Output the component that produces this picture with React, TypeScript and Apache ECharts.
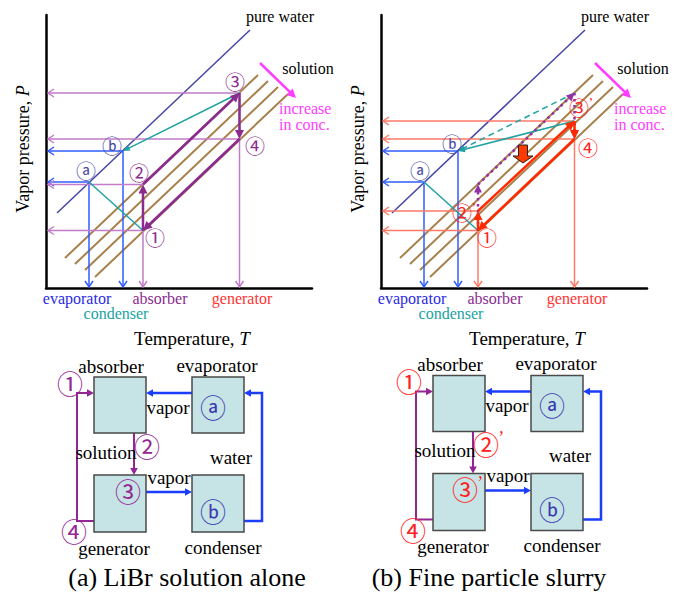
import React, { useEffect, useRef } from "react";
import * as echarts from "echarts";

// ---------- P–T diagram geometry (diagram units: T to the right, P upward) ----------
const AXIS_T_MAX = 266;
const AXIS_P_MAX = 273;
const PURE_WATER: number[][] = [[11, 75], [204, 258]];
const SOLUTION_LINES: number[][][] = [
  [[19, 30], [212, 213]],
  [[29, 24], [222, 207]],
  [[39, 18], [232, 201]],
  [[49, 11], [242, 194]],
];
const STATE_A = [43, 106];
const STATE_B = [77, 137];
const STATE_1 = [97, 57.5];
const STATE_2 = [97, 103.5];
const STATE_3 = [193.5, 195];
const STATE_4 = [193.5, 149];
const STATE_2P = [97, 77]; // slurry, 2'
const STATE_3P = [193.5, 167]; // slurry, lowered generator point
const CONC_ARROW: number[][] = [[214, 225], [250, 190]];
const DROP_ARROW = [142, 135];
const P_AXIS_T = 2; // T where the horizontal arrows reach the P axis
const T_AXIS_P = 1; // P where the vertical arrows reach the T axis

// ---------- layout ----------
const PANEL_LEFT = [46, 381];
const PANEL_TOP = 15;
const BLOCK_OFFSET = [[0, 0], [339, -1.5]];

const SERIF = "Liberation Serif";
const CJK = "Noto Sans CJK JP";

const C = {
  brown: "#a8804c",
  water: "#4545a5",
  thinPurple: "#c27bc9",
  blue: "#2f5cff",
  teal: "#1fa3a3",
  thickPurple: "#8b2a8f",
  salmon: "#ff7a66",
  red: "#ff2a00",
  dotted: "#9331a6",
  magenta: "#ff3cff",
  circ: "#4a4aa8",
  redLabel: "#ff2020",
  blkBlue: "#1a3dff",
  blkPurple: "#932693",
};

type SegStyle = {
  color: string;
  width: number;
  dash?: number[];
  head?: "open" | "filled";
  hl?: number;
  hw?: number;
};

const seg = (a: number[], b: number[], arrow = 1) => [a[0], a[1], b[0], b[1], arrow];
const toP = (a: number[]) => [P_AXIS_T, a[1]];
const toT = (a: number[]) => [a[0], T_AXIS_P];

function renderSeg(st: SegStyle) {
  return (params: any, api: any) => {
    const p1 = api.coord([api.value(0), api.value(1)]);
    const p2 = api.coord([api.value(2), api.value(3)]);
    const arrow = api.value(4);
    const dx = p2[0] - p1[0];
    const dy = p2[1] - p1[1];
    const len = Math.hypot(dx, dy) || 1;
    const ux = dx / len;
    const uy = dy / len;
    const L = st.hl ?? 6;
    const W = st.hw ?? 4;
    const children: any[] = [];
    let end = p2;
    if (arrow && st.head === "filled") end = [p2[0] - ux * (L - 1), p2[1] - uy * (L - 1)];
    children.push({
      type: "line",
      shape: { x1: p1[0], y1: p1[1], x2: end[0], y2: end[1] },
      style: { stroke: st.color, lineWidth: st.width, lineDash: st.dash || null, fill: null },
    });
    if (arrow) {
      const bx = p2[0] - ux * L;
      const by = p2[1] - uy * L;
      const lp = [bx - uy * W, by + ux * W];
      const rp = [bx + uy * W, by - ux * W];
      if (st.head === "filled") {
        children.push({ type: "polygon", shape: { points: [p2, lp, rp] }, style: { fill: st.color } });
      } else {
        children.push({
          type: "polyline",
          shape: { points: [lp, p2, rp] },
          style: { stroke: st.color, lineWidth: st.width, fill: null },
        });
      }
    }
    return { type: "group", children };
  };
}

function segSeries(panel: number, data: number[][], st: SegStyle, z: number) {
  return {
    type: "custom",
    xAxisIndex: panel,
    yAxisIndex: panel,
    clip: false,
    silent: true,
    z,
    renderItem: renderSeg(st),
    data,
  };
}

function dropArrowSeries(panel: number) {
  return {
    type: "custom",
    xAxisIndex: panel,
    yAxisIndex: panel,
    clip: false,
    silent: true,
    z: 9,
    data: [DROP_ARROW],
    renderItem: (params: any, api: any) => {
      const p = api.coord([api.value(0), api.value(1)]);
      const pts = [
        [-4.5, -8], [4.5, -8], [4.5, 3], [10, 3], [0, 10], [-10, 3], [-4.5, 3],
      ].map((q) => [p[0] + q[0], p[1] + q[1]]);
      return { type: "polygon", shape: { points: pts }, style: { fill: "#ff3a00", stroke: "#222", lineWidth: 1 } };
    },
  };
}

function txt(x: number, y: number, text: string, size: number, color = "#000", extra: any = {}) {
  const fam = extra.family || SERIF;
  const align = extra.align || "center";
  return {
    type: "text",
    x,
    y,
    rotation: extra.rotation || 0,
    silent: true,
    z: 20,
    style: {
      text,
      x: 0,
      y: 0,
      fontSize: size,
      fontFamily: fam,
      fontStyle: extra.italic ? "italic" : "normal",
      fill: color,
      align,
      verticalAlign: "middle",
      textAlign: align,
      textVerticalAlign: "middle",
      rich: extra.rich,
    },
  };
}

function circ(x: number, y: number, ch: string, size: number, color: string, prime = false) {
  const els: any[] = [txt(x, y, ch, size, color, { family: CJK })];
  if (prime) els.push(txt(x + size * 0.47, y - size * 0.2, "\u2019", size * 0.7, color, { align: "left" }));
  return els;
}

function panelTexts(panel: number) {
  const ox = PANEL_LEFT[panel];
  const oy = PANEL_TOP + AXIS_P_MAX;
  const at = (dx: number, dy: number) => [ox + dx, oy + dy];
  const els: any[] = [];
  const push = (p: number[], t: string, s: number, c: string, e: any = {}) => els.push(txt(p[0], p[1], t, s, c, e));
  push(at(234, -272), "pure water", 16, "#000");
  push(at(262, -220), "solution", 16, "#000");
  push(at(233, -179.5), "increase", 16, C.magenta, { align: "left" });
  push(at(233, -163.5), "in conc.", 16, C.magenta, { align: "left" });
  push(at(-23, -139), "Vapor pressure, {i|P}", 18, "#000", {
    rotation: Math.PI / 2,
    rich: { i: { fontStyle: "italic", fontSize: 18, fontFamily: SERIF, fill: "#000" } },
  });
  push(at(31, 10), "evaporator", 16, "#2a2ae6");
  push(at(70, 25), "condenser", 16, "#18a3a3");
  push(at(114, 10), "absorber", 16, C.thickPurple);
  push(at(196, 10), "generator", 16, "#ff3333");
  push(at(146, 50), "Temperature, {i|T}", 19, "#000", {
    rich: { i: { fontStyle: "italic", fontSize: 19, fontFamily: SERIF, fill: "#000" } },
  });
  const cs = 20;
  const add = (d: number[], ch: string, col: string, prime = false) => {
    const p = at(d[0], d[1]);
    els.push(...circ(p[0], p[1], ch, cs, col, prime));
  };
  if (panel === 0) {
    add([189, -207], "③", C.thickPurple);
    add([209, -143], "④", C.thickPurple);
    add([93, -116], "②", C.thickPurple);
    add([109, -51], "①", C.thickPurple);
    add([40, -118], "ⓐ", C.circ);
    add([66, -143], "ⓑ", C.circ);
  } else {
    add([198, -181], "③", C.redLabel, true);
    add([207, -141], "④", C.redLabel);
    add([81, -76], "②", C.redLabel, true);
    add([106, -51], "①", C.redLabel);
    add([39, -118], "ⓐ", C.circ);
    add([71, -145], "ⓑ", C.circ);
  }
  return els;
}

function blkArrow(points: number[][], color: string, width: number) {
  const n = points.length;
  const a = points[n - 2];
  const b = points[n - 1];
  const dx = b[0] - a[0];
  const dy = b[1] - a[1];
  const len = Math.hypot(dx, dy) || 1;
  const ux = dx / len;
  const uy = dy / len;
  const L = 7;
  const W = 3.8;
  const pts = points.slice(0, n - 1).concat([[b[0] - ux * (L - 1), b[1] - uy * (L - 1)]]);
  const bx = b[0] - ux * L;
  const by = b[1] - uy * L;
  return {
    type: "group",
    silent: true,
    z: 15,
    children: [
      { type: "polyline", shape: { points: pts }, style: { stroke: color, lineWidth: width, fill: null } },
      {
        type: "polygon",
        shape: { points: [b, [bx - uy * W, by + ux * W], [bx + uy * W, by - ux * W]] },
        style: { fill: color },
      },
    ],
  };
}

function blockDiagram(panel: number) {
  const [ox, oy] = BLOCK_OFFSET[panel];
  const P = (x: number, y: number) => [x + ox, y + oy];
  const els: any[] = [];
  const boxes = [
    [94, 377, 52, 56],
    [192, 377, 52, 56],
    [94, 475, 52, 57],
    [192, 475, 52, 57],
  ];
  boxes.forEach((b) =>
    els.push({
      type: "rect",
      silent: true,
      z: 12,
      shape: { x: b[0] + ox, y: b[1] + oy, width: b[2], height: b[3] },
      style: { fill: "#c6e3e5", stroke: "#4a4a4a", lineWidth: 1.5 },
    })
  );
  els.push(blkArrow([P(192, 393), P(146, 393)], C.blkBlue, 2.5));
  els.push(blkArrow([P(146, 492), P(192, 492)], C.blkBlue, 2.5));
  els.push(blkArrow([P(244, 521), P(262, 521), P(262, 393), P(244, 393)], C.blkBlue, 2.5));
  els.push(blkArrow([P(134, 433), P(134, 475)], C.blkPurple, 2));
  els.push(blkArrow([P(94, 521), P(77, 521), P(77, 393), P(94, 393)], C.blkPurple, 2));
  const t = (x: number, y: number, s: string) => els.push(txt(x + ox, y + oy, s, 19, "#000"));
  t(111, 366, "absorber");
  t(217, 365, "evaporator");
  t(114, 548, "generator");
  t(223, 547, "condenser");
  t(168, 407, "vapor");
  t(169, 477, "vapor");
  t(106, 452, "solution");
  t(231, 457, "water");
  const bs = 26;
  els.push(...circ(213 + ox, 406 + oy, "ⓐ", bs, "#3a3ab0"));
  els.push(...circ(213 + ox, 510 + oy, "ⓑ", bs, "#3a3ab0"));
  const lc = panel === 0 ? C.blkPurple : C.redLabel;
  els.push(...circ(70 + ox, 382 + oy, "①", bs, lc));
  els.push(...circ(147 + ox, 445 + oy, "②", bs, lc, panel === 1));
  els.push(...circ(128 + ox - (panel === 1 ? 2 : 0), 490 + oy, "③", bs, lc, panel === 1));
  els.push(...circ(74 + ox, 530.5 + oy, "④", bs, lc));
  return els;
}

function buildOption() {
  const series: any[] = [];
  for (let p = 0; p < 2; p++) {
    series.push(segSeries(p, SOLUTION_LINES.map((l) => seg(l[0], l[1], 0)), { color: C.brown, width: 2 }, 2));
    series.push(segSeries(p, [seg(PURE_WATER[0], PURE_WATER[1], 0)], { color: C.water, width: 1.5 }, 2));
    series.push(
      segSeries(p, [seg(CONC_ARROW[0], CONC_ARROW[1])], { color: C.magenta, width: 2.5, head: "filled", hl: 9, hw: 4.5 }, 3)
    );
    series.push(
      segSeries(
        p,
        [seg(STATE_A, toP(STATE_A)), seg(STATE_B, toP(STATE_B)), seg(STATE_A, toT(STATE_A)), seg(STATE_B, toT(STATE_B))],
        { color: C.blue, width: 1.5, head: "open" },
        4
      )
    );
  }
  // (a) LiBr solution alone
  series.push(
    segSeries(
      0,
      [
        seg(STATE_3, toP(STATE_3)),
        seg(STATE_4, toP(STATE_4)),
        seg(STATE_2, toP(STATE_2)),
        seg(STATE_1, toP(STATE_1)),
        seg(STATE_1, toT(STATE_1)),
        seg(STATE_3, toT(STATE_3)),
      ],
      { color: C.thinPurple, width: 1.5, head: "open" },
      4
    )
  );
  series.push(
    segSeries(0, [seg(STATE_A, STATE_1, 0), seg(STATE_3, STATE_B)], { color: C.teal, width: 1.5, head: "filled", hl: 7, hw: 3 }, 5)
  );
  series.push(
    segSeries(
      0,
      [seg(STATE_1, STATE_2), seg(STATE_2, STATE_3), seg(STATE_3, STATE_4), seg(STATE_4, STATE_1)],
      { color: C.thickPurple, width: 2.5, head: "filled", hl: 9, hw: 4.5 },
      6
    )
  );
  // (b) fine particle slurry
  series.push(
    segSeries(
      1,
      [
        seg(STATE_3P, toP(STATE_3P)),
        seg(STATE_4, toP(STATE_4)),
        seg(STATE_2P, toP(STATE_2P)),
        seg(STATE_1, toP(STATE_1)),
        seg(STATE_1, toT(STATE_1)),
        seg(STATE_3P, toT(STATE_3P)),
      ],
      { color: C.salmon, width: 1.5, head: "open" },
      4
    )
  );
  series.push(
    segSeries(1, [seg(STATE_A, STATE_1, 0), seg(STATE_3P, STATE_B)], { color: C.teal, width: 1.5, head: "filled", hl: 7, hw: 3 }, 5)
  );
  series.push(
    segSeries(1, [seg(STATE_3, STATE_B)], { color: C.teal, width: 1.5, dash: [6, 4], head: "filled", hl: 7, hw: 3 }, 5)
  );
  series.push(
    segSeries(
      1,
      [seg(STATE_1, STATE_2), seg(STATE_2, STATE_3), seg(STATE_3, STATE_4)],
      { color: C.dotted, width: 2.5, dash: [2.5, 3.5], head: "filled", hl: 8, hw: 4 },
      6
    )
  );
  series.push(
    segSeries(
      1,
      [seg(STATE_1, STATE_2P), seg(STATE_2P, STATE_3P), seg(STATE_3P, STATE_4), seg(STATE_4, STATE_1)],
      { color: C.red, width: 2.5, head: "filled", hl: 9, hw: 4.5 },
      7
    )
  );
  series.push(dropArrowSeries(1));

  const axisCommon = {
    type: "value",
    axisLine: { show: true, onZero: false, lineStyle: { color: "#000", width: 2.5 } },
    axisTick: { show: false },
    axisLabel: { show: false },
    splitLine: { show: false },
  };

  const graphicEls: any[] = [
    ...panelTexts(0),
    ...panelTexts(1),
    ...blockDiagram(0),
    ...blockDiagram(1),
    txt(187, 577, "(a) LiBr solution alone", 26, "#000"),
    txt(489, 577, "(b) Fine particle slurry", 26, "#000"),
  ];

  return {
    animation: false,
    backgroundColor: "#fff",
    textStyle: { fontFamily: SERIF },
    grid: PANEL_LEFT.map((l) => ({ left: l, top: PANEL_TOP, width: AXIS_T_MAX, height: AXIS_P_MAX })),
    xAxis: [0, 1].map((i) => ({ ...axisCommon, gridIndex: i, min: 0, max: AXIS_T_MAX })),
    yAxis: [0, 1].map((i) => ({ ...axisCommon, gridIndex: i, min: 0, max: AXIS_P_MAX })),
    series,
    graphic: { elements: graphicEls },
  };
}

export default function App() {
  const ref = useRef<HTMLDivElement>(null);
  useEffect(() => {
    const chart = echarts.init(ref.current!, null, { renderer: "svg" });
    chart.setOption(buildOption() as any);
    return () => chart.dispose();
  }, []);
  return (
    <div
      ref={ref}
      style={{ position: "fixed", left: 0, top: 0, width: 681, height: 593, background: "#fff" }}
    />
  );
}
